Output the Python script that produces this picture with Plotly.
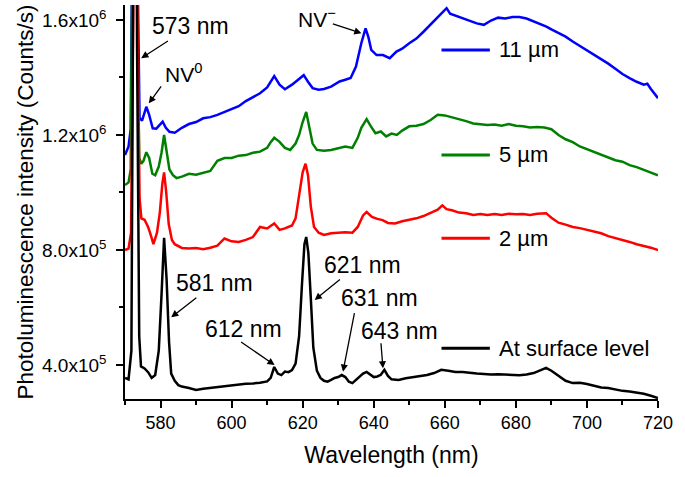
import plotly.graph_objects as go

# ---------------- data ----------------
wl_surface = [570, 571, 571.8, 572.3, 572.8, 573.4, 574.0, 574.5, 575.5, 576.5, 577.5, 578.5, 579.5, 580.3, 581.0,
              581.7, 582.4, 583.0, 584, 585, 586, 588, 590, 592, 594, 596, 598, 600, 602, 604, 606, 608, 610, 611,
              612, 613, 614, 615, 616, 617, 618, 619, 619.8, 620.5, 621.0, 621.6, 622.3, 623.0, 624, 625, 626, 627,
              628, 629, 630, 631, 632, 633, 634, 635, 636, 637, 638, 639, 640, 641, 642, 643, 644, 645, 647, 649,
              651, 653, 655, 657, 659, 661, 663, 665, 667, 669, 671, 673, 675, 677, 679, 681, 683, 685, 687, 688.5,
              690, 692, 694, 696, 698, 700, 702, 704, 706, 708, 710, 712, 714, 716, 718, 720]
int_surface = [3.55e5, 3.50e5, 4.5e5, 1.5e6, 3.0e6, 1.5e6, 5.0e5, 3.95e5, 3.88e5, 3.75e5, 3.55e5, 3.65e5, 4.5e5,
               6.5e5, 8.42e5, 7.0e5, 4.8e5, 3.7e5, 3.45e5, 3.30e5, 3.25e5, 3.20e5, 3.13e5, 3.17e5, 3.20e5, 3.24e5,
               3.28e5, 3.30e5, 3.33e5, 3.35e5, 3.36e5, 3.38e5, 3.43e5, 3.55e5, 3.93e5, 3.70e5, 3.65e5, 3.77e5,
               3.75e5, 3.82e5, 4.05e5, 5.0e5, 6.8e5, 8.2e5, 8.45e5, 7.9e5, 6.3e5, 4.6e5, 3.8e5, 3.55e5, 3.45e5,
               3.42e5, 3.48e5, 3.55e5, 3.58e5, 3.65e5, 3.58e5, 3.42e5, 3.37e5, 3.48e5, 3.60e5, 3.70e5, 3.76e5,
               3.68e5, 3.58e5, 3.60e5, 3.66e5, 3.83e5, 3.62e5, 3.50e5, 3.48e5, 3.54e5, 3.58e5, 3.60e5, 3.65e5,
               3.72e5, 3.83e5, 3.80e5, 3.76e5, 3.76e5, 3.72e5, 3.70e5, 3.69e5, 3.67e5, 3.68e5, 3.66e5, 3.65e5,
               3.64e5, 3.67e5, 3.72e5, 3.82e5, 3.90e5, 3.80e5, 3.62e5, 3.45e5, 3.37e5, 3.38e5, 3.34e5, 3.28e5,
               3.22e5, 3.20e5, 3.15e5, 3.10e5, 3.08e5, 3.04e5, 3.00e5, 2.93e5, 2.85e5]

wl_2um = [570, 571, 571.7, 572.3, 572.9, 573.5, 574.1, 574.6, 575.5, 576.5, 577.3, 578.0, 579.0, 579.8, 580.5, 581.0,
          581.6, 582.3, 583.2, 584, 586, 588, 590, 592, 594, 596, 598, 600, 602, 604, 606, 608, 610, 612, 613.5, 615,
          617, 618, 619, 620, 620.8, 621.5, 622.3, 623.2, 624.5, 626, 628, 630, 632, 634, 635.5, 637, 638, 639.5,
          641, 642.5, 644, 646, 648, 650, 652, 654, 656, 658, 659.3, 660.5, 662, 664, 666, 668, 670, 672, 674, 676,
          678, 680, 682, 684, 686, 688.5, 690, 692, 694, 696, 698, 700, 702, 704, 706, 708, 710, 712, 714, 716, 718,
          720]
int_2um = [8.0e5, 8.05e5, 8.6e5, 1.6e6, 3.0e6, 1.6e6, 9.8e5, 9.1e5, 9.05e5, 8.8e5, 8.5e5, 8.2e5, 8.6e5, 9.3e5,
           1.03e6, 1.07e6, 1.0e6, 8.9e5, 8.35e5, 8.2e5, 8.07e5, 8.05e5, 8.07e5, 8.03e5, 8.08e5, 8.15e5, 8.4e5, 8.3e5,
           8.28e5, 8.35e5, 8.45e5, 8.8e5, 8.75e5, 8.92e5, 8.7e5, 8.75e5, 8.85e5, 9.1e5, 9.9e5, 1.07e6, 1.10e6,
           1.06e6, 9.5e5, 8.8e5, 8.6e5, 8.52e5, 8.58e5, 8.6e5, 8.62e5, 8.6e5, 8.8e5, 9.2e5, 9.32e5, 9.15e5, 9.08e5,
           9.04e5, 8.94e5, 8.92e5, 9.0e5, 9.05e5, 9.1e5, 9.18e5, 9.28e5, 9.40e5, 9.55e5, 9.42e5, 9.38e5, 9.30e5,
           9.28e5, 9.22e5, 9.25e5, 9.22e5, 9.25e5, 9.22e5, 9.26e5, 9.24e5, 9.25e5, 9.22e5, 9.26e5, 9.28e5, 9.12e5,
           8.95e5, 8.88e5, 8.80e5, 8.76e5, 8.70e5, 8.62e5, 8.58e5, 8.48e5, 8.42e5, 8.35e5, 8.28e5, 8.20e5, 8.15e5,
           8.08e5, 8.0e5]

wl_5um = [570, 571, 571.6, 572.2, 572.8, 573.4, 574.0, 574.6, 575.2, 576, 576.8, 577.7, 578.5, 579.5, 580.3, 581.0,
          581.7, 582.5, 583.5, 584.5, 586, 588, 590, 592, 594, 596, 598, 600, 602, 604, 606, 608, 610, 611, 612,
          613.5, 615, 616.5, 618, 619, 620, 621, 621.8, 622.8, 624, 626, 628, 630, 632, 634, 635.5, 636.5, 638,
          639.2, 640.5, 642, 643.5, 645, 646.5, 648, 650, 652, 654, 656, 658, 660, 662, 664, 666, 668, 670, 672,
          674, 676, 678, 680, 682, 684, 686, 688, 690, 692, 694, 696, 698, 700, 702, 704, 706, 708, 710, 712, 714,
          716, 718, 720]
int_5um = [1.026e6, 1.035e6, 1.08e6, 1.6e6, 3.0e6, 1.7e6, 1.12e6, 1.10e6, 1.11e6, 1.14e6, 1.12e6, 1.065e6, 1.06e6,
           1.09e6, 1.14e6, 1.20e6, 1.14e6, 1.08e6, 1.06e6, 1.05e6, 1.055e6, 1.065e6, 1.062e6, 1.068e6, 1.075e6,
           1.11e6, 1.12e6, 1.12e6, 1.128e6, 1.13e6, 1.138e6, 1.142e6, 1.155e6, 1.175e6, 1.19e6, 1.176e6, 1.155e6,
           1.148e6, 1.17e6, 1.2e6, 1.245e6, 1.28e6, 1.23e6, 1.17e6, 1.148e6, 1.145e6, 1.148e6, 1.155e6, 1.16e6,
           1.155e6, 1.19e6, 1.225e6, 1.255e6, 1.23e6, 1.206e6, 1.212e6, 1.195e6, 1.205e6, 1.2e6, 1.215e6, 1.23e6,
           1.232e6, 1.238e6, 1.252e6, 1.27e6, 1.268e6, 1.262e6, 1.256e6, 1.248e6, 1.24e6, 1.238e6, 1.235e6,
           1.236e6, 1.232e6, 1.238e6, 1.232e6, 1.230e6, 1.226e6, 1.228e6, 1.226e6, 1.22e6, 1.20e6, 1.185e6,
           1.175e6, 1.16e6, 1.15e6, 1.142e6, 1.13e6, 1.122e6, 1.112e6, 1.107e6, 1.095e6, 1.088e6, 1.078e6,
           1.068e6, 1.06e6]

wl_11um = [570, 571, 571.6, 572.2, 572.8, 573.5, 574.1, 574.8, 575.5, 576, 576.8, 577.8, 578.8, 579.8, 580.6, 581.5,
           582.5, 584, 586, 588, 590, 592, 594, 596, 598, 600, 602, 604, 606, 608, 610, 612, 613.5, 615, 617, 619,
           620.3, 621.5, 622.8, 624.5, 626, 628, 630.4, 632, 633.5, 635, 636.5, 637.7, 638.5, 639.3, 640.8, 642.6,
           644.5, 646.4, 648, 650, 652, 654, 656, 658, 660, 660.5, 661.5, 663, 665, 667, 669, 671, 673, 675, 677,
           679, 681, 683, 685, 687, 688.6, 690, 692, 694, 696, 698, 700, 702, 704, 706, 708, 710, 712, 714, 716,
           717, 718, 720]
int_11um = [1.13e6, 1.16e6, 1.22e6, 1.8e6, 3.0e6, 1.8e6, 1.26e6, 1.25e6, 1.28e6, 1.298e6, 1.27e6, 1.223e6, 1.222e6,
            1.235e6, 1.246e6, 1.225e6, 1.211e6, 1.208e6, 1.225e6, 1.238e6, 1.245e6, 1.258e6, 1.262e6, 1.27e6,
            1.28e6, 1.29e6, 1.30e6, 1.318e6, 1.333e6, 1.345e6, 1.365e6, 1.405e6, 1.375e6, 1.359e6, 1.375e6,
            1.395e6, 1.408e6, 1.385e6, 1.363e6, 1.357e6, 1.36e6, 1.368e6, 1.386e6, 1.392e6, 1.398e6, 1.438e6,
            1.519e6, 1.571e6, 1.54e6, 1.496e6, 1.478e6, 1.478e6, 1.467e6, 1.49e6, 1.5e6, 1.519e6, 1.535e6, 1.559e6,
            1.585e6, 1.612e6, 1.635e6, 1.641e6, 1.622e6, 1.615e6, 1.605e6, 1.596e6, 1.588e6, 1.583e6, 1.598e6,
            1.608e6, 1.605e6, 1.61e6, 1.61e6, 1.605e6, 1.595e6, 1.583e6, 1.577e6, 1.567e6, 1.555e6, 1.542e6,
            1.525e6, 1.51e6, 1.495e6, 1.48e6, 1.465e6, 1.448e6, 1.43e6, 1.412e6, 1.398e6, 1.385e6, 1.375e6,
            1.378e6, 1.36e6, 1.328e6]

series_names = ["11 µm", "5 µm", "2 µm", "At surface level"]
series_colors = ["#0000ff", "#008000", "#ff0000", "#000000"]
series_wl = [wl_11um, wl_5um, wl_2um, wl_surface]
series_int = [int_11um, int_5um, int_2um, int_surface]

y_tick_vals = [4.0e5, 8.0e5, 1.2e6, 1.6e6]
y_tick_text = ["4.0x10<sup>5</sup>", "8.0x10<sup>5</sup>", "1.2x10<sup>6</sup>", "1.6x10<sup>6</sup>"]

# peak labels: (text, text_x, text_y, arrow tail x, tail y, head x, head y)
peak_labels = [
    ("573 nm", 588.45, 1.579e6, 582.5, 1.530e6, 574.56, 1.467e6),
    ("581 nm", 595.2, 6.852e5, 590.5, 6.376e5, 583.0, 5.659e5),
    ("612 nm", 603.4, 5.252e5, 602.25, 4.835e5, 612.1, 4.0e5),
    ("621 nm", 636.9, 7.478e5, 630.9, 7.016e5, 623.38, 6.261e5),
    ("631 nm", 641.7, 6.33e5, 634.65, 5.854e5, 631.35, 3.767e5),
    ("643 nm", 647.3, 5.183e5, 642.0, 4.81e5, 642.6, 3.885e5),
]
nv_labels = [
    ("NV<sup>0</sup>", 580.65, 1.4157e6, 580.48, 1.374e6, 576.7, 1.310e6),
    ("NV<sup>−</sup>", 618.03, 1.607e6, 628.08, 1.5885e6, 636.54, 1.5537e6),
]
legend_y = [1.4957e6, 1.1304e6, 8.407e5, 4.581e5]
legend_x0, legend_x1, legend_tx = 659.07, 672.68, 674.56

FONT = "Arial, 'Liberation Sans', sans-serif"

fig = go.Figure()
for name, col, xs, ys in zip(series_names, series_colors, series_wl, series_int):
    fig.add_trace(go.Scatter(x=xs, y=ys, mode="lines", name=name,
                             line=dict(color=col, width=2.5), showlegend=False, hoverinfo="skip"))

annotations = []
for txt, tx, ty, ax, ay, hx, hy in peak_labels:
    annotations.append(dict(x=tx, y=ty, xref="x", yref="y", text=txt, showarrow=False,
                            font=dict(size=23, color="black", family=FONT), xanchor="center", yanchor="middle"))
    annotations.append(dict(x=hx, y=hy, ax=ax, ay=ay, xref="x", yref="y", axref="x", ayref="y", text="",
                            showarrow=True, arrowhead=2, arrowsize=1.1, arrowwidth=1.3, arrowcolor="black"))
for txt, tx, ty, ax, ay, hx, hy in nv_labels:
    annotations.append(dict(x=tx, y=ty, xref="x", yref="y", text=txt, showarrow=False,
                            font=dict(size=21, color="black", family=FONT), xanchor="left", yanchor="middle"))
    annotations.append(dict(x=hx, y=hy, ax=ax, ay=ay, xref="x", yref="y", axref="x", ayref="y", text="",
                            showarrow=True, arrowhead=2, arrowsize=1.1, arrowwidth=1.3, arrowcolor="black"))

shapes = []
for name, col, ly in zip(series_names, series_colors, legend_y):
    shapes.append(dict(type="line", xref="x", yref="y", x0=legend_x0, x1=legend_x1, y0=ly, y1=ly,
                       line=dict(color=col, width=3)))
    annotations.append(dict(x=legend_tx, y=ly, xref="x", yref="y", text=name, showarrow=False,
                            font=dict(size=22, color="black", family=FONT), xanchor="left", yanchor="middle"))

fig.update_layout(
    width=685, height=477,
    margin=dict(l=125, r=27, t=5, b=78),
    paper_bgcolor="white", plot_bgcolor="white",
    font=dict(family=FONT, color="black"),
    annotations=annotations, shapes=shapes,
    showlegend=False,
)
fig.update_xaxes(
    range=[570, 720], showline=True, linecolor="black", linewidth=1.5, showgrid=False, zeroline=False,
    ticks="outside", ticklen=7, tickwidth=1.5, tickcolor="black", dtick=20, tick0=580,
    tickfont=dict(size=18, family=FONT, color="black"),
    minor=dict(ticks="outside", ticklen=4, tickwidth=1.5, tickcolor="black", dtick=10, tick0=570),
    title=dict(text="Wavelength (nm)", font=dict(size=23, family=FONT, color="black"), standoff=15),
    automargin=False,
)
fig.update_yaxes(
    range=[2.817e5, 1.652e6], showline=True, linecolor="black", linewidth=1.5, showgrid=False, zeroline=False,
    ticks="outside", ticklen=7, tickwidth=1.5, tickcolor="black",
    tickmode="array", tickvals=y_tick_vals, ticktext=y_tick_text,
    tickfont=dict(size=19, family=FONT, color="black"), ticklabelstandoff=6,
    minor=dict(ticks="outside", ticklen=4, tickwidth=1.5, tickcolor="black", tickmode="array",
               tickvals=[6.0e5, 1.0e6, 1.4e6]),
    title=dict(text="Photoluminescence intensity (Counts/s)", font=dict(size=22.5, family=FONT, color="black"),
               standoff=2),
    automargin=False,
)

fig.write_html("out.html", config={"displayModeBar": False},
               post_script="document.body.style.margin='0';document.body.style.overflow='hidden';")
